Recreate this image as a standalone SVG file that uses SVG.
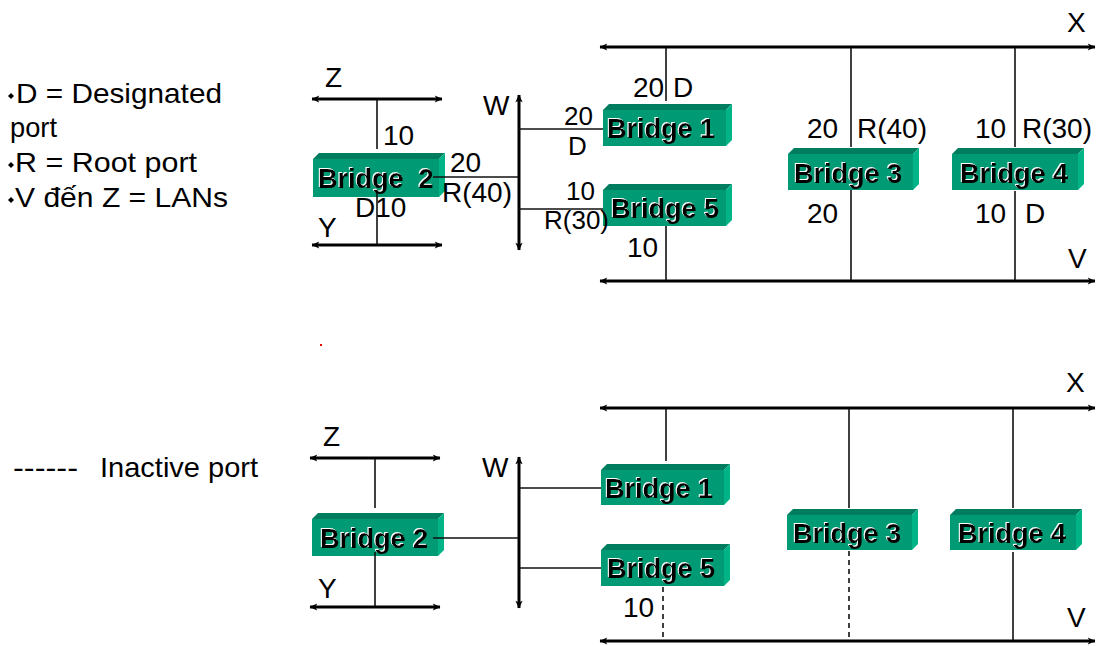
<svg xmlns="http://www.w3.org/2000/svg" width="1097" height="646" viewBox="0 0 1097 646">
<defs>
<marker id="ah" viewBox="0 0 10 10" refX="9" refY="5" markerWidth="9" markerHeight="9" markerUnits="userSpaceOnUse" orient="auto-start-reverse">
<path d="M1,1 L9.5,5 L1,9 L3,5 z" fill="#000"/>
</marker>
<filter id="emb" x="-5%" y="-20%" width="110%" height="140%">
<feOffset in="SourceAlpha" dx="-1" dy="-1" result="o"/>
<feFlood flood-color="#fff"/>
<feComposite in2="o" operator="in" result="w"/>
<feMerge><feMergeNode in="w"/><feMergeNode in="SourceGraphic"/></feMerge>
</filter>
</defs>
<style>
text{font-family:"Liberation Sans",Arial,sans-serif;font-size:28px;fill:#000}
.sm{font-size:26px}
.bt{font-weight:bold;font-size:27px;filter:url(#emb)}
.lan{stroke:#000;stroke-width:3;fill:none;marker-start:url(#ah);marker-end:url(#ah)}
.lk{stroke:#111;stroke-width:1.6;fill:none}
.dash{stroke-dasharray:5 4}
.front{fill:#009A74}
.top{fill:#007D5E}
.side{fill:#00B487}
</style>
<rect width="1097" height="646" fill="#fff"/>

<g id="legend">
<polygon points="11,93 14,96 11,99 8,96" fill="#000"/>
<text x="16" y="103" textLength="206" lengthAdjust="spacingAndGlyphs">D = Designated</text>
<text x="10" y="137" textLength="47" lengthAdjust="spacingAndGlyphs">port</text>
<polygon points="11,162 14,165 11,168 8,165" fill="#000"/>
<text x="15" y="172" textLength="182" lengthAdjust="spacingAndGlyphs">R = Root port</text>
<polygon points="11,197 14,200 11,203 8,200" fill="#000"/>
<text x="15" y="207" textLength="213" lengthAdjust="spacingAndGlyphs">V đến Z = LANs</text>
<text x="13" y="477" textLength="65" lengthAdjust="spacingAndGlyphs">------</text>
<text x="100" y="477" textLength="158" lengthAdjust="spacingAndGlyphs">Inactive port</text>
<rect x="320" y="344" width="2" height="2" fill="#e00"/>
</g>

<g id="lans">
<path class="lan" d="M600,47 H1095"/>
<path class="lan" d="M600,281 H1095"/>
<path class="lan" d="M312,99 H442"/>
<path class="lan" d="M312,245 H442"/>
<path class="lan" d="M519,95 V250"/>
<path class="lan" d="M600,408 H1095"/>
<path class="lan" d="M600,641 H1095"/>
<path class="lan" d="M310,458 H440"/>
<path class="lan" d="M310,607 H440"/>
<path class="lan" d="M519,457 V608"/>
</g>

<g id="bridge1">
<polygon class="top" points="603,110 609,104 732,104 726,110"/>
<polygon class="side" points="726,110 732,104 732,140 726,146"/>
<rect class="front" x="603" y="110" width="123" height="36"/>
<text class="bt" x="607" y="138">Bridge 1</text>
</g>
<g id="bridge5">
<polygon class="top" points="603,190 609,184 732,184 726,190"/>
<polygon class="side" points="726,190 732,184 732,220 726,226"/>
<rect class="front" x="603" y="190" width="123" height="36"/>
<text class="bt" x="611" y="218">Bridge 5</text>
</g>
<g id="bridge3">
<polygon class="top" points="788,154 794,148 919,148 913,154"/>
<polygon class="side" points="913,154 919,148 919,184 913,190"/>
<rect class="front" x="788" y="154" width="125" height="36"/>
<text class="bt" x="794" y="183">Bridge 3</text>
</g>
<g id="bridge4">
<polygon class="top" points="952,154 958,148 1084,148 1078,154"/>
<polygon class="side" points="1078,154 1084,148 1084,184 1078,190"/>
<rect class="front" x="952" y="154" width="126" height="36"/>
<text class="bt" x="960" y="183">Bridge 4</text>
</g>
<g id="bridge2">
<polygon class="top" points="313,159 319,153 445,153 439,159"/>
<polygon class="side" points="439,159 445,153 445,191 439,197"/>
<rect class="front" x="313" y="159" width="126" height="38"/>
<text class="bt" x="318" y="188" xml:space="preserve">Bridge  2</text>
</g>

<g id="bridge1b">
<polygon class="top" points="601,470 607,464 730,464 724,470"/>
<polygon class="side" points="724,470 730,464 730,499 724,505"/>
<rect class="front" x="601" y="470" width="123" height="35"/>
<text class="bt" x="605" y="498">Bridge 1</text>
</g>
<g id="bridge5b">
<polygon class="top" points="601,550 607,544 730,544 724,550"/>
<polygon class="side" points="724,550 730,544 730,580 724,586"/>
<rect class="front" x="601" y="550" width="123" height="36"/>
<text class="bt" x="607" y="578">Bridge 5</text>
</g>
<g id="bridge3b">
<polygon class="top" points="787,515 793,509 918,509 912,515"/>
<polygon class="side" points="912,515 918,509 918,544 912,550"/>
<rect class="front" x="787" y="515" width="125" height="35"/>
<text class="bt" x="793" y="543">Bridge 3</text>
</g>
<g id="bridge4b">
<polygon class="top" points="950,515 956,509 1082,509 1076,515"/>
<polygon class="side" points="1076,515 1082,509 1082,544 1076,550"/>
<rect class="front" x="950" y="515" width="126" height="35"/>
<text class="bt" x="958" y="543">Bridge 4</text>
</g>
<g id="bridge2b">
<polygon class="top" points="312,519 318,513 444,513 438,519"/>
<polygon class="side" points="438,519 444,513 444,550 438,556"/>
<rect class="front" x="312" y="519" width="126" height="37"/>
<text class="bt" x="320" y="548">Bridge 2</text>
</g>

<g id="connectors">
<path class="lk" d="M666,48 V101"/>
<path class="lk" d="M851,48 V147"/>
<path class="lk" d="M851,190 V280"/>
<path class="lk" d="M1015,48 V147"/>
<path class="lk" d="M1015,191 V280"/>
<path class="lk" d="M666,226 V280"/>
<path class="lk" d="M377,100 V149"/>
<path class="lk" d="M377,193 V244"/>
<path class="lk" d="M433,177 H518"/>
<path class="lk" d="M519,129 H603"/>
<path class="lk" d="M519,209 H603"/>

<path class="lk" d="M666,409 V461"/>
<path class="lk" d="M849,409 V508"/>
<path class="lk dash" d="M849,551 V640"/>
<path class="lk" d="M1013,409 V508"/>
<path class="lk" d="M1013,552 V640"/>
<path class="lk dash" d="M663,587 V640"/>
<path class="lk" d="M375,459 V508"/>
<path class="lk" d="M375,552 V606"/>
<path class="lk" d="M433,538 H518"/>
<path class="lk" d="M519,488 H601"/>
<path class="lk" d="M519,568 H601"/>
</g>

<g id="labels">
<text x="325" y="87">Z</text>
<text x="383" y="145">10</text>
<text x="355" y="217">D10</text>
<text x="318" y="237">Y</text>
<text x="450" y="172">20</text>
<text x="442" y="202">R(40)</text>
<text x="483" y="115">W</text>
<text class="sm" x="564" y="125">20</text>
<text class="sm" x="568" y="155">D</text>
<text class="sm" x="566" y="200">10</text>
<text class="sm" x="544" y="229">R(30)</text>
<text x="633" y="97">20</text>
<text x="673" y="97">D</text>
<text x="807" y="138">20</text>
<text x="857" y="138">R(40)</text>
<text x="975" y="138">10</text>
<text x="1022" y="138">R(30)</text>
<text x="807" y="223">20</text>
<text x="975" y="223">10</text>
<text x="1025" y="223">D</text>
<text x="627" y="257">10</text>
<text x="1067" y="32">X</text>
<text x="1068" y="268">V</text>

<text x="323" y="446">Z</text>
<text x="318" y="598">Y</text>
<text x="482" y="477">W</text>
<text x="1066" y="392">X</text>
<text x="1067" y="627">V</text>
<text x="623" y="617">10</text>
</g>
</svg>
